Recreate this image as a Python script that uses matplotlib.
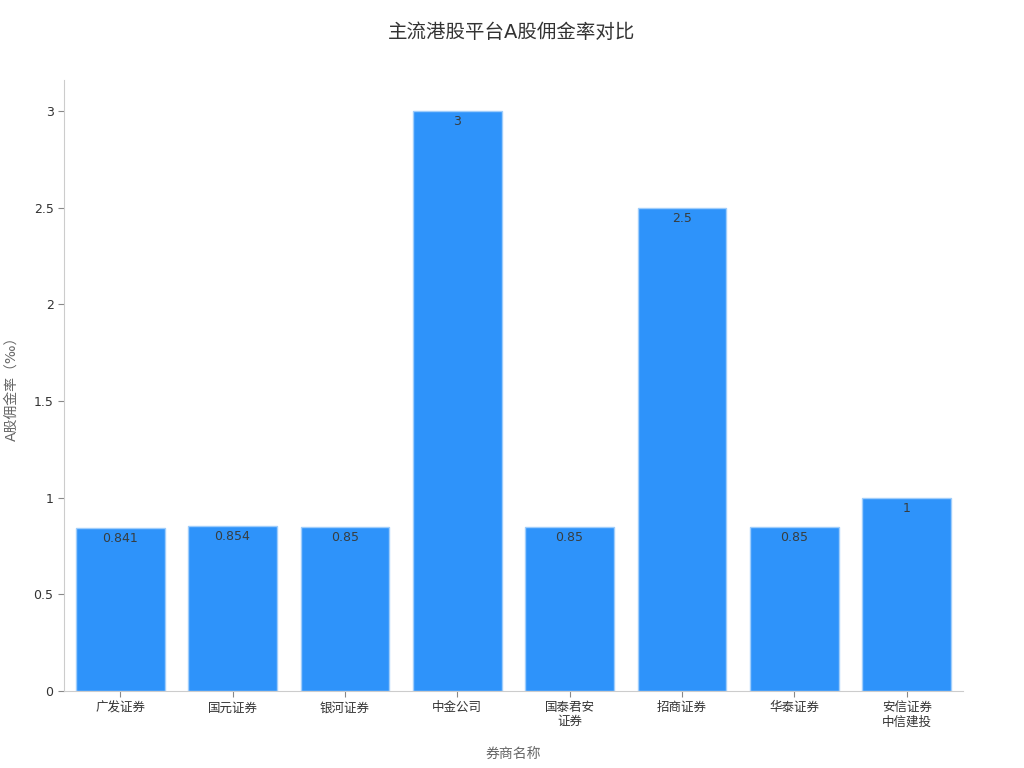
import matplotlib
matplotlib.use("Agg")
import matplotlib.pyplot as plt

plt.rcParams['font.family'] = ['DejaVu Sans', 'Noto Sans CJK SC']

# 数据
brokers = ['广发证券', '国元证券', '银河证券', '中金公司', '国泰君安\n证券', '招商证券', '华泰证券', '安信证券\n中信建投']
rates = [0.841, 0.854, 0.85, 3, 0.85, 2.5, 0.85, 1]
rate_labels = ['0.841', '0.854', '0.85', '3', '0.85', '2.5', '0.85', '1']

fig = plt.figure(figsize=(10.24, 7.68), dpi=100)
ax = fig.add_axes([0.0625, 0.1003, 0.8778, 0.7957])

x = range(len(brokers))
bars = ax.bar(x, rates, width=0.79, color='#2E93FA', edgecolor='#9fcdfb', linewidth=1)

for bar, lab in zip(bars, rate_labels):
    ax.annotate(lab, (bar.get_x() + bar.get_width() / 2, bar.get_height()),
                xytext=(0, -3), textcoords='offset points',
                ha='center', va='top', fontsize=9, color='#373d3f')

ax.set_xlim(-0.5, 7.5)
ax.set_ylim(0, 3.16)
ax.set_yticks([0, 0.5, 1, 1.5, 2, 2.5, 3])
ax.set_yticklabels(['0', '0.5', '1', '1.5', '2', '2.5', '3'])
ax.set_xticks(list(x))
ax.set_xticklabels(brokers, fontsize=9, color='#333333', linespacing=1.1)
ax.tick_params(axis='y', labelsize=9, labelcolor='#333333', color='#888888', length=4)
ax.tick_params(axis='x', color='#888888', length=4)

for side in ['top', 'right']:
    ax.spines[side].set_visible(False)
for side in ['left', 'bottom']:
    ax.spines[side].set_color('#cccccc')

ax.set_xlabel('券商名称', fontsize=10, color='#666666', labelpad=14)
ax.set_ylabel('A股佣金率（‰）', fontsize=10, color='#666666')
ax.yaxis.set_label_coords(-0.05, 0.5)

fig.suptitle('主流港股平台A股佣金率对比', fontsize=14, color='#333333', y=0.97)

fig.savefig('out.png', dpi=100)
